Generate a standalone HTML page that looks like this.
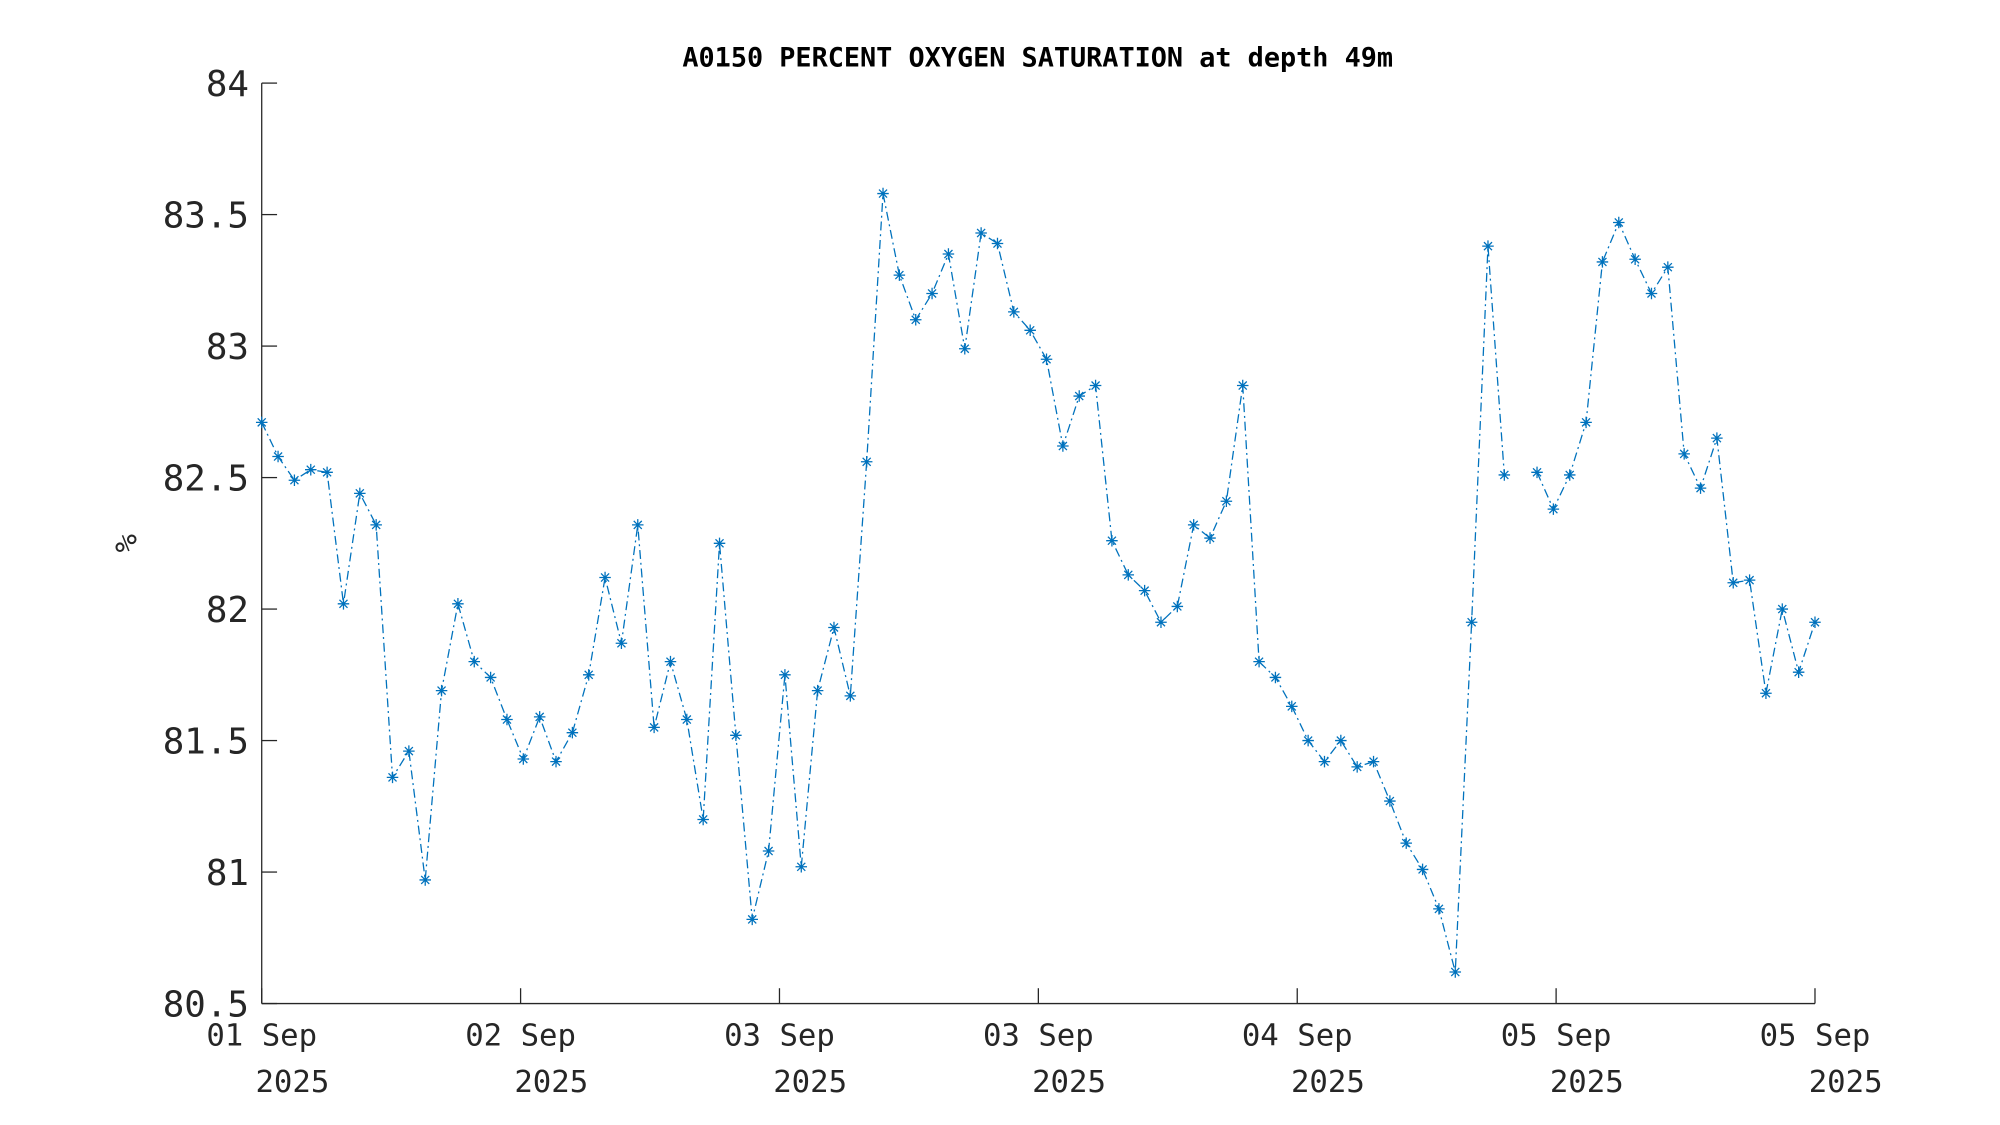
<!DOCTYPE html>
<html><head><meta charset="utf-8"><style>
html,body{margin:0;padding:0;background:#fff;}
svg{display:block;}
text{font-family:"DejaVu Sans Mono","Liberation Mono",monospace;fill:#262626;}
</style></head><body>
<svg id="chart" width="2000" height="1125" viewBox="0 0 1563 880" xmlns="http://www.w3.org/2000/svg">
<rect width="1563" height="880" fill="#fff"/>
<text x="811" y="52" text-anchor="middle" font-size="21" font-weight="bold" style="fill:#000">A0150 PERCENT OXYGEN SATURATION at depth 49m</text>
<text transform="translate(106,425) rotate(-90)" text-anchor="middle" font-size="24">%</text>
<g id="axes"></g>
<g id="series"></g>
</svg>
<script>
const yTicks=[80.5,81,81.5,82,82.5,83,83.5,84];
const yTickLabels=["80.5","81","81.5","82","82.5","83","83.5","84"];
const xTickLabels=["01 Sep","02 Sep","03 Sep","03 Sep","04 Sep","05 Sep","05 Sep"];
const xTickYear=["2025","2025","2025","2025","2025","2025","2025"];
const values=[82.71,82.58,82.49,82.53,82.52,82.02,82.44,82.32,81.36,81.46,80.97,81.69,82.02,81.80,81.74,81.58,81.43,81.59,81.42,81.53,81.75,82.12,81.87,82.32,81.55,81.80,81.58,81.20,82.25,81.52,80.82,81.08,81.75,81.02,81.69,81.93,81.67,82.56,83.58,83.27,83.10,83.20,83.35,82.99,83.43,83.39,83.13,83.06,82.95,82.62,82.81,82.85,82.26,82.13,82.07,81.95,82.01,82.32,82.27,82.41,82.85,81.80,81.74,81.63,81.50,81.42,81.50,81.40,81.42,81.27,81.11,81.01,80.86,80.62,81.95,83.38,82.51,null,82.52,82.38,82.51,82.71,83.32,83.47,83.33,83.20,83.30,82.59,82.46,82.65,82.10,82.11,81.68,82.00,81.76,81.95];
const X0=204,X1=1419,Y0=785,Y1=65,yMin=80.5,yMax=84;
const NS="http://www.w3.org/2000/svg";
function xScale(i){return X0+(X1-X0)*i/(values.length-1);}
function xTick(i){return X0+(X1-X0)*i/(xTickLabels.length-1);}
function yScale(v){return Y0-(v-yMin)/(yMax-yMin)*(Y0-Y1);}
function mk(tag,attrs,parent){const e=document.createElementNS(NS,tag);for(const k in attrs)e.setAttribute(k,attrs[k]);parent.appendChild(e);return e;}
const axes=document.getElementById('axes'),ser=document.getElementById('series');
const ya=mk('line',{x1:X0,y1:Y0,x2:X0,y2:Y1,stroke:'#262626','stroke-width':1},axes);


const xa=mk('line',{x1:X0,y1:Y0,x2:X1,y2:Y0,stroke:'#262626','stroke-width':1},axes);


yTicks.forEach((v,i)=>{const y=yScale(v);
 mk('line',{x1:X0,y1:y,x2:X0+12,y2:y,stroke:'#262626'},axes);
 const t=mk('text',{x:X0-10,y:y+10,'text-anchor':'end','font-size':28},axes);t.textContent=yTickLabels[i];
 
 });
xTickLabels.forEach((l,i)=>{const x=xTick(i);
 mk('line',{x1:x,y1:Y0,x2:x,y2:Y0-12,stroke:'#262626'},axes);
 const t=mk('text',{x:x,y:818,'text-anchor':'middle','font-size':24},axes);t.textContent=l;
 
 
 const t2=mk('text',{x:x+24,y:854,'text-anchor':'middle','font-size':24},axes);t2.textContent=xTickYear[i];
 
 });
let d='',pen=false;
values.forEach((v,i)=>{if(v===null){pen=false;return;}d+=(pen?'L':'M')+xScale(i)+' '+yScale(v);pen=true;});
const path=mk('path',{d:d,fill:'none',stroke:'#0072BD','stroke-width':1,'stroke-dasharray':'7 3 1.5 3'},ser);


values.forEach((v,i)=>{if(v===null)return;const x=xScale(i),y=yScale(v),r=4.5;
 const g=mk('path',{d:`M${x-r} ${y}L${x+r} ${y}M${x} ${y-r}L${x} ${y+r}M${x-r*.7} ${y-r*.7}L${x+r*.7} ${y+r*.7}M${x-r*.7} ${y+r*.7}L${x+r*.7} ${y-r*.7}`,stroke:'#0072BD','stroke-width':1},ser);
 
 });
</script>
</body></html>
